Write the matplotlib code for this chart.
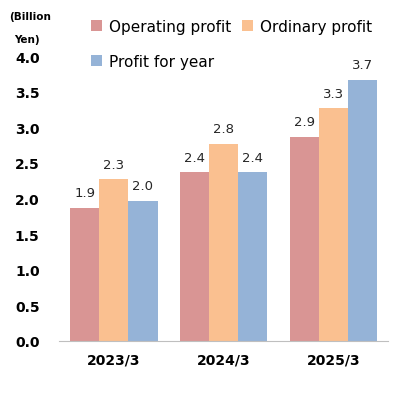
import numpy as np
import matplotlib
matplotlib.use("Agg")
import matplotlib.pyplot as plt

# values (billion yen)
years = ["2023/3", "2024/3", "2025/3"]
operating = [1.87, 2.37, 2.87]
ordinary = [2.27, 2.77, 3.27]
profit_year = [1.97, 2.37, 3.67]
yticks = [0.0, 0.5, 1.0, 1.5, 2.0, 2.5, 3.0, 3.5, 4.0]

colors = ["#D99594", "#FAC090", "#95B3D7"]

fig = plt.figure(figsize=(3.94, 4.14), dpi=100)
ax = fig.add_axes([0.150, 0.174, 0.835, 0.688])

x = np.arange(len(years))
w = 0.265
series = [("Operating profit", operating), ("Ordinary profit", ordinary),
          ("Profit for year", profit_year)]
bars = []
for i, (name, vals) in enumerate(series):
    b = ax.bar(x + (i - 1) * w, vals, w, color=colors[i], label=name)
    bars.append(b)
    for xi, v in zip(x + (i - 1) * w, vals):
        ax.text(xi, v + 0.12, "%.1f" % v, ha="center", va="bottom",
                fontsize=9.5, color="#262626", clip_on=False)

ax.set_xlim(-0.5, 2.5)
ax.set_ylim(0, 4.0)
ax.set_yticks(yticks)
ax.set_yticklabels(["%.1f" % t for t in yticks], fontweight="bold", fontsize=10)
ax.set_xticks(x)
ax.set_xticklabels(years, fontweight="bold", fontsize=10)
ax.tick_params(length=0)
ax.tick_params(axis="y", pad=14)
ax.tick_params(axis="x", pad=8)
for s in ["top", "right", "left"]:
    ax.spines[s].set_visible(False)
ax.spines["bottom"].set_color("#BFBFBF")

fig.text(0.022, 0.96, "(Billion", fontsize=7.5, fontweight="bold", va="center")
fig.text(0.036, 0.903, "Yen)", fontsize=7.5, fontweight="bold", va="center")

handles = [bars[0], bars[2], bars[1]]
labels = ["Operating profit", "Profit for year", "Ordinary profit"]
fig.legend(handles, labels, ncol=2, loc="upper left", bbox_to_anchor=(0.195, 0.985),
           frameon=False, fontsize=11, handlelength=0.75, handleheight=0.75,
           handletextpad=0.45, columnspacing=0.7, labelspacing=1.3)

plt.savefig("out.png", dpi=100)
